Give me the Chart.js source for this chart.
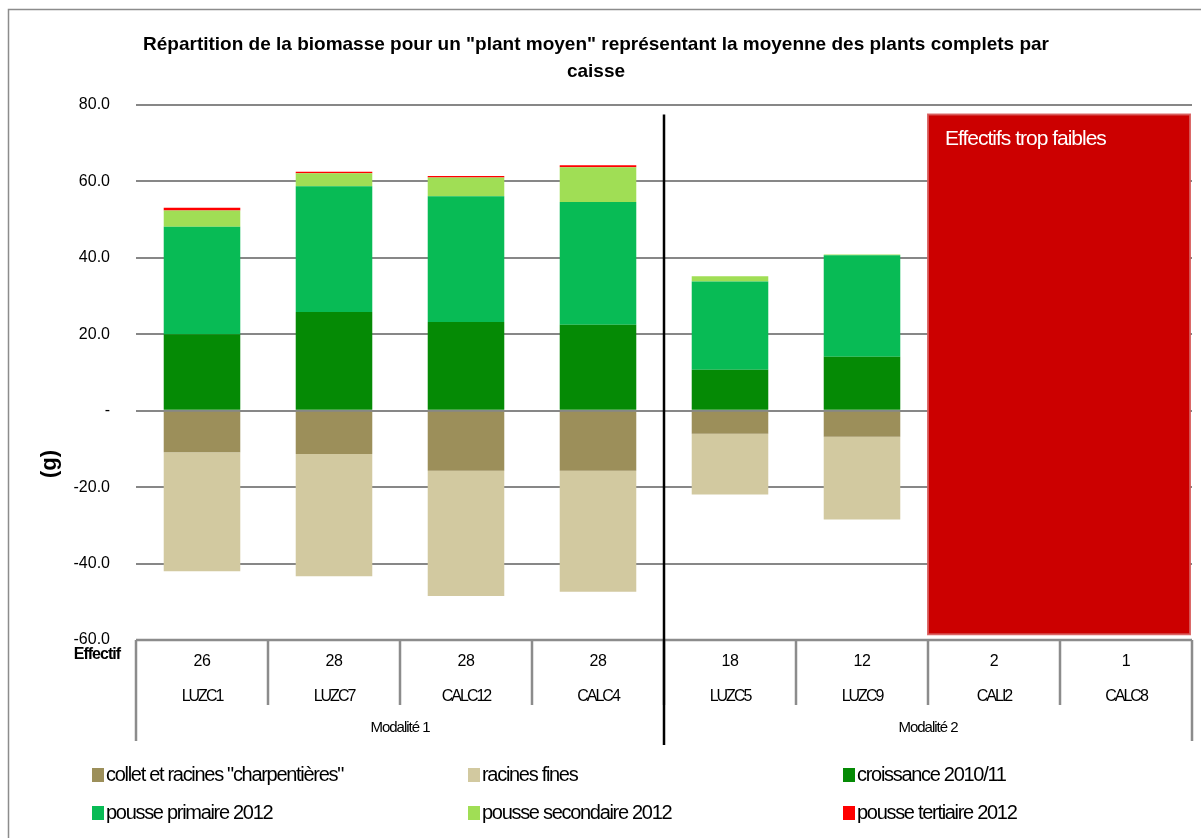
<!DOCTYPE html>
<html lang="fr">
<head>
<meta charset="utf-8">
<title>Répartition de la biomasse</title>
<script src="https://cdn.jsdelivr.net/npm/chart.js@4/dist/chart.umd.min.js"></script>
<style>
  html, body { margin: 0; padding: 0; background: #fff; }
  #wrap { width: 1201px; height: 838px; }
</style>
</head>
<body>
<div id="wrap"><canvas id="biomasseChart" width="1201" height="838"></canvas></div>
<script>
// caisses et effectifs
var caisses = ['LUZC1', 'LUZC7', 'CALC12', 'CALC4', 'LUZC5', 'LUZC9', 'CALI2', 'CALC8'];
var effectifs = [26, 28, 28, 28, 18, 12, 2, 1];
var modalites = ['Modalité 1', 'Modalité 2'];
var caissesParModalite = [4, 4];

// biomasse moyenne par compartiment (racines en négatif)
var collet = [-10.9, -11.3, -15.7, -15.7, -6.0, -6.8, null, null];
var racinesFines = [-31.1, -32.0, -32.8, -31.7, -15.9, -21.7, null, null];
var croissance = [20.0, 25.8, 23.2, 22.5, 10.7, 14.1, null, null];
var primaire = [28.1, 32.9, 32.9, 32.1, 23.1, 26.6, null, null];
var secondaire = [4.3, 3.4, 4.9, 9.1, 1.4, 0.2, null, null];
var tertiaire = [0.7, 0.4, 0.4, 0.5, 0, 0, null, null];

var yMin = -60, yMax = 80, yStep = 20;

// zone masquée : caisses aux effectifs trop faibles
var noteTexte = 'Effectifs trop faibles';
var noteCaisses = ['CALI2', 'CALC8'];
var noteHaut = 77.5, noteBas = -58.5;

var regular = "'Liberation Sans', Arial, sans-serif";

function serie(label, data, color) {
    return {
        label: label,
        data: data,
        backgroundColor: color,
        borderWidth: 0,
        barPercentage: 0.58,
        categoryPercentage: 1.0
    };
}

var decorPlugin = {
    id: 'decor',
    afterDatasetsDraw: function (chart) {
        var ctx = chart.ctx;
        var x = chart.scales.x, y = chart.scales.y;
        var half = (x.getPixelForValue(1) - x.getPixelForValue(0)) / 2;

        // encadré rouge
        var i0 = caisses.indexOf(noteCaisses[0]), i1 = caisses.indexOf(noteCaisses[1]);
        var left = x.getPixelForValue(i0) - half;
        var right = x.getPixelForValue(i1) + half - 2;
        var top = y.getPixelForValue(noteHaut), bottom = y.getPixelForValue(noteBas);
        ctx.save();
        ctx.fillStyle = '#cc0000';
        ctx.fillRect(left, top, right - left, bottom - top);
        ctx.strokeStyle = 'rgba(215,90,90,0.9)';
        ctx.lineWidth = 2;
        ctx.strokeRect(left, top, right - left, bottom - top);
        ctx.fillStyle = '#fff';
        ctx.font = '21px ' + regular;
        ctx.letterSpacing = '-1px';
        ctx.textBaseline = 'middle';
        ctx.fillText(noteTexte, left + 17, top + 25);
        ctx.restore();
    },
    afterDraw: function (chart) {
        var ctx = chart.ctx;
        var x = chart.scales.x, y = chart.scales.y;
        var area = chart.chartArea;
        var half = (x.getPixelForValue(1) - x.getPixelForValue(0)) / 2;
        var tTop = area.bottom, tRow1 = tTop + 22, tRow2 = tTop + 57, tSep = tTop + 65,
            tRow3 = tTop + 88, tBottom = tTop + 101;

        ctx.save();
        // cadre
        ctx.strokeStyle = '#8c8c8c';
        ctx.lineWidth = 1.5;
        ctx.strokeRect(8.5, 9.5, 1200, 840);

        // tableau sous l'axe
        ctx.strokeStyle = '#8c8c8c';
        ctx.lineWidth = 2.5;
        ctx.beginPath();
        ctx.moveTo(area.left, tTop);
        ctx.lineTo(area.right, tTop);
        ctx.moveTo(area.left, tTop);
        ctx.lineTo(area.left, tBottom);
        ctx.moveTo(area.right, tTop);
        ctx.lineTo(area.right, tBottom);
        for (var i = 1; i < caisses.length; i++) {
            var bx = x.getPixelForValue(i) - half;
            ctx.moveTo(bx, tTop);
            ctx.lineTo(bx, tSep);
        }
        ctx.stroke();

        ctx.fillStyle = '#000';
        ctx.textAlign = 'center';
        ctx.textBaseline = 'middle';
        caisses.forEach(function (c, i) {
            var cx = x.getPixelForValue(i);
            ctx.letterSpacing = '-0.5px';
            ctx.font = '16px ' + regular;
            ctx.fillText(String(effectifs[i]), cx, tRow1);
            ctx.letterSpacing = '-2px';
            ctx.font = '16px ' + regular;
            ctx.fillText(c, cx, tRow2);
        });

        // modalités et séparateur
        var start = 0;
        ctx.font = '15px ' + regular;
        ctx.letterSpacing = '-1px';
        modalites.forEach(function (m, k) {
            var end = start + caissesParModalite[k] - 1;
            var mx = (x.getPixelForValue(start) + x.getPixelForValue(end)) / 2;
            ctx.fillText(m, mx, tRow3);
            start = end + 1;
        });
        var sx = x.getPixelForValue(caissesParModalite[0]) - half;
        ctx.strokeStyle = '#000';
        ctx.lineWidth = 2.5;
        ctx.beginPath();
        ctx.moveTo(sx, y.getPixelForValue(noteHaut));
        ctx.lineTo(sx, tBottom + 4);
        ctx.stroke();

        ctx.textAlign = 'right';
        ctx.font = 'bold 16px ' + regular;
        ctx.letterSpacing = '-1px';
        ctx.fillText('Effectif', area.left - 16, tTop + 15);

        // titre de l'axe vertical
        ctx.letterSpacing = '0px';
        ctx.translate(50, 464);
        ctx.rotate(-Math.PI / 2);
        ctx.textAlign = 'center';
        ctx.font = 'bold 22px ' + regular;
        ctx.fillText('(g)', 0, 0);
        ctx.setTransform(1, 0, 0, 1, 0, 0);

        // légende sur trois colonnes
        var cols = [92, 468, 843], rows = [775, 813];
        ctx.textAlign = 'left';
        ctx.font = '20px ' + regular;
        ctx.letterSpacing = '-1.3px';
        chart.data.datasets.forEach(function (ds, i) {
            var lx = cols[i % 3], ly = rows[Math.floor(i / 3)];
            ctx.fillStyle = ds.backgroundColor;
            ctx.fillRect(lx, ly - 7, 12, 14);
            ctx.fillStyle = '#000';
            ctx.fillText(ds.label, lx + 14, ly);
        });
        ctx.restore();
    }
};

var chartElement = new Chart(document.getElementById('biomasseChart'), {
    type: 'bar',
    data: {
        labels: caisses,
        datasets: [
            serie('collet et racines "charpentières"', collet, '#9c8f5a'),
            serie('racines fines', racinesFines, '#d2c9a0'),
            serie('croissance 2010/11', croissance, '#058a05'),
            serie('pousse primaire 2012', primaire, '#08bb55'),
            serie('pousse secondaire 2012', secondaire, '#a0de55'),
            serie('pousse tertiaire 2012', tertiaire, '#ff0000')
        ]
    },
    options: {
        responsive: false,
        animation: false,
        layout: { padding: { left: 0, right: 9, top: 9, bottom: 198 } },
        plugins: {
            legend: { display: false },
            tooltip: { enabled: false },
            title: {
                display: true,
                text: ['Répartition de la biomasse pour un "plant moyen" représentant la moyenne des plants complets par', 'caisse'],
                color: '#000',
                font: { family: regular, size: 19, weight: 'bold', lineHeight: 1.42 },
                padding: { top: 22, bottom: 20 }
            }
        },
        scales: {
            x: { stacked: true, display: false },
            y: {
                stacked: true,
                min: yMin,
                max: yMax,
                ticks: {
                    stepSize: yStep,
                    padding: 26,
                    color: '#000',
                    font: { family: regular, size: 16 },
                    callback: function (v) { return v === 0 ? '-' : v.toFixed(1); }
                },
                grid: { color: '#878787', lineWidth: 2, drawTicks: false },
                border: { display: false },
                afterFit: function (s) { s.width = 136; }
            }
        }
    },
    plugins: [decorPlugin]
});
</script>
</body>
</html>
